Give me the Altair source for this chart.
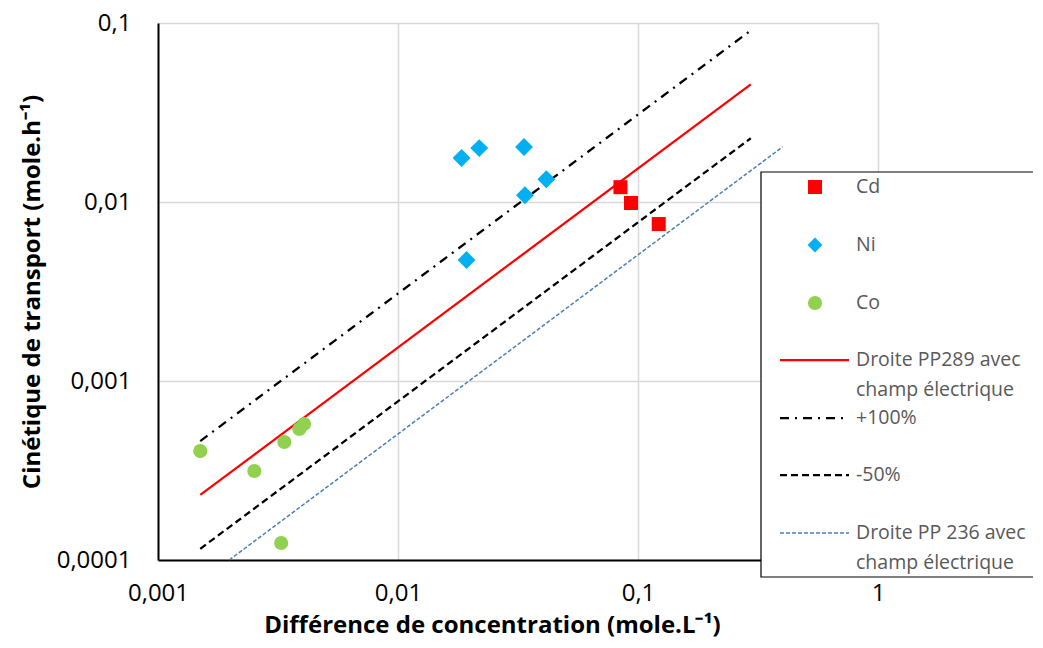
import altair as alt
import pandas as pd

# ---- data ----
cd_x = [0.0845, 0.0935, 0.122]
cd_y = [0.0121, 0.00987, 0.00753]

ni_x = [0.0184, 0.0218, 0.0335, 0.0415, 0.0338, 0.0193]
ni_y = [0.0176, 0.0200, 0.0203, 0.0134, 0.0109, 0.00474]

co_x = [0.0015, 0.00252, 0.00336, 0.00388, 0.00406, 0.00326]
co_y = [0.000406, 0.000314, 0.000456, 0.000539, 0.000575, 0.0001245]

line_pp289_x = [0.0015, 0.295]
line_pp289_y = [0.000231, 0.0454]
line_plus100_x = [0.0015, 0.295]
line_plus100_y = [0.000462, 0.0909]
line_minus50_x = [0.0015, 0.295]
line_minus50_y = [0.0001155, 0.0227]
line_pp236_x = [0.00198, 0.40]
line_pp236_y = [0.0001, 0.0203]

x_ticks = [0.001, 0.01, 0.1, 1]
y_ticks = [0.0001, 0.001, 0.01, 0.1]

FONT = "Open Sans"
GRID = "#d9d9d9"

label_expr = "replace(format(datum.value, '~g'), '.', ',')"

xscale = alt.Scale(type="log", domain=[0.001, 1])
yscale = alt.Scale(type="log", domain=[0.0001, 0.1])

xaxis = alt.Axis(values=x_ticks, labelExpr=label_expr, title="Différence de concentration (mole.L⁻¹)",
                 grid=True, gridColor=GRID, gridWidth=1.5, domainColor="black", domainWidth=2,
                 ticks=False, labelFlush=False, labelFont=FONT, labelFontSize=24, labelColor="black",
                 labelPadding=21, titleFont=FONT, titleFontSize=24, titleFontWeight="bold",
                 titleColor="black", titlePadding=8, titleX=334)
yaxis = alt.Axis(values=y_ticks, labelExpr=label_expr, title="Cinétique de transport (mole.h⁻¹)",
                 grid=True, gridColor=GRID, gridWidth=1.5, domainColor="black", domainWidth=2,
                 ticks=False, labelFlush=False, labelFont=FONT, labelFontSize=24, labelColor="black",
                 labelPadding=27, titleFont=FONT, titleFontSize=24, titleFontWeight="bold",
                 titleColor="black", titlePadding=12)


def pts(xs, ys):
    return pd.DataFrame({"x": xs, "y": ys})


def enc(chart):
    return chart.encode(
        x=alt.X("x:Q", scale=xscale, axis=xaxis),
        y=alt.Y("y:Q", scale=yscale, axis=yaxis),
    )


# lines
l_red = enc(alt.Chart(pts(line_pp289_x, line_pp289_y)).mark_line(color="#ff0000", strokeWidth=2.25))
l_plus = enc(alt.Chart(pts(line_plus100_x, line_plus100_y)).mark_line(color="black", strokeWidth=2.25, strokeDash=[9, 6, 2, 6]))
l_minus = enc(alt.Chart(pts(line_minus50_x, line_minus50_y)).mark_line(color="black", strokeWidth=2.25, strokeDash=[7, 4]))
l_blue = enc(alt.Chart(pts(line_pp236_x, line_pp236_y)).mark_line(color="#4a7ebb", strokeWidth=1.5, strokeDash=[4, 2]))

# points
p_cd = enc(alt.Chart(pts(cd_x, cd_y)).mark_point(shape="square", filled=True, size=196, color="#ff0000", opacity=1))
p_ni = enc(alt.Chart(pts(ni_x, ni_y)).mark_point(shape="diamond", filled=True, size=320, color="#00b0f0", opacity=1))
p_co = enc(alt.Chart(pts(co_x, co_y)).mark_point(shape="circle", filled=True, size=200, color="#92d050", opacity=1))

# ---- manual legend (plot-area pixel positions) ----
one = pd.DataFrame({"a": [0]})
leg_layers = []
leg_layers.append(alt.Chart(one).mark_rect(fill="white", stroke="black", strokeWidth=1.2).encode(
    x=alt.value(603), x2=alt.value(877), y=alt.value(149), y2=alt.value(554)))

sym_x = 657
text_x = 698
leg_layers.append(alt.Chart(one).mark_point(shape="square", filled=True, size=196, color="#ff0000", opacity=1).encode(
    x=alt.value(sym_x), y=alt.value(164)))
leg_layers.append(alt.Chart(one).mark_point(shape="diamond", filled=True, size=220, color="#00b0f0", opacity=1).encode(
    x=alt.value(sym_x), y=alt.value(222)))
leg_layers.append(alt.Chart(one).mark_point(shape="circle", filled=True, size=200, color="#92d050", opacity=1).encode(
    x=alt.value(sym_x), y=alt.value(280)))

line_styles = [
    (337, dict(color="#ff0000", strokeWidth=2.25)),
    (395, dict(color="black", strokeWidth=2.25, strokeDash=[9, 6, 2, 6])),
    (452, dict(color="black", strokeWidth=2.25, strokeDash=[7, 4])),
    (510, dict(color="#4a7ebb", strokeWidth=1.5, strokeDash=[4, 2])),
]
for yy, st in line_styles:
    leg_layers.append(alt.Chart(one).mark_rule(**st).encode(
        x=alt.value(622), x2=alt.value(691), y=alt.value(yy)))

leg_texts = [
    ("Cd", 164), ("Ni", 222), ("Co", 280),
    ("Droite PP289 avec", 337), ("champ électrique", 367),
    ("+100%", 395), ("-50%", 452),
    ("Droite PP 236 avec", 510), ("champ électrique", 540),
]
for txt, yy in leg_texts:
    leg_layers.append(alt.Chart(one).mark_text(align="left", baseline="middle", font=FONT, fontSize=19.5,
                                               color="#595959").encode(
        x=alt.value(text_x), y=alt.value(yy), text=alt.value(txt)))

chart = alt.layer(l_red, l_plus, l_minus, l_blue, p_cd, p_ni, p_co, *leg_layers).properties(
    width=720, height=537,
    background="white",
    autosize=alt.AutoSizeParams(type="none"),
    padding={"left": 150, "top": 15, "right": 155, "bottom": 80},
).configure_view(stroke=None)

chart.save("out.html", embed_options={"renderer": "svg", "actions": False})
